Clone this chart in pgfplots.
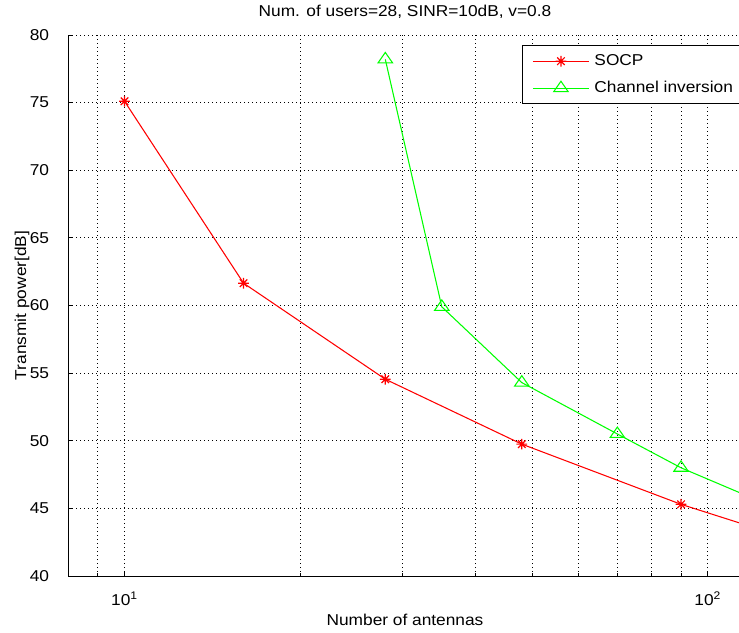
\documentclass[border=0pt]{standalone}
\usepackage{pgfplots}
\pgfplotsset{compat=1.18}
\usepackage{fontspec}
\setmainfont{Liberation Sans}[FakeStretch=1.1]

% eight-armed asterisk marker (plus and cross combined)
\pgfdeclareplotmark{matstar}{%
  \pgfpathmoveto{\pgfqpoint{-\pgfplotmarksize}{0pt}}%
  \pgfpathlineto{\pgfqpoint{\pgfplotmarksize}{0pt}}%
  \pgfpathmoveto{\pgfqpoint{0pt}{-\pgfplotmarksize}}%
  \pgfpathlineto{\pgfqpoint{0pt}{\pgfplotmarksize}}%
  \pgfpathmoveto{\pgfqpoint{-0.707\pgfplotmarksize}{-0.707\pgfplotmarksize}}%
  \pgfpathlineto{\pgfqpoint{0.707\pgfplotmarksize}{0.707\pgfplotmarksize}}%
  \pgfpathmoveto{\pgfqpoint{-0.707\pgfplotmarksize}{0.707\pgfplotmarksize}}%
  \pgfpathlineto{\pgfqpoint{0.707\pgfplotmarksize}{-0.707\pgfplotmarksize}}%
  \pgfusepathqstroke}

\begin{document}
\begin{tikzpicture}[font=\fontsize{11.8pt}{14pt}\selectfont]
\path[use as bounding box] (-51pt,-42pt) rectangle (503.25pt,432pt);
\begin{axis}[
  at={(0pt,0pt)}, anchor=south west,
  scale only axis, width=505.5pt, height=405.75pt,
  xmode=log, xmin=8, xmax=114.5, ymin=40, ymax=80,
  axis x line*=bottom, axis y line*=left,
  axis line style={black, line width=0.75pt, -},
  xtick={10,100}, xticklabels={10\textsuperscript{1},10\textsuperscript{2}},
  minor xtick={9,20,30,40,50,60,70,80,90},
  ytick={40,45,...,80},
  /pgf/number format/assume math mode=true,
  tick align=inside, major tick length=4pt, minor tick length=2.5pt,
  tick style={black, line width=0.6pt},
  xmajorgrids, xminorgrids, ymajorgrids,
  major grid style={black, line width=0.6pt, dash pattern=on 0.6pt off 2.4pt},
  minor grid style={black, line width=0.6pt, dash pattern=on 0.6pt off 2.4pt},
  xticklabel style={anchor=center, yshift=-17pt},
  yticklabel style={anchor=east, inner sep=0pt, xshift=-14pt},
  every axis title shift=0pt,
  title={Num. of users=28, SINR=10dB, v=0.8},
  title style={at={(axis description cs:0.5,1.0425)}, anchor=center},
  xlabel={Number of antennas},
  xlabel style={at={(axis description cs:0.5,-0.0813)}, anchor=center},
  ylabel={Transmit power[dB]},
  ylabel style={at={(axis description cs:-0.0682,0.5)}, anchor=center, rotate=0},
  legend style={at={(0.674,0.981)}, anchor=north west, draw=black,
    line width=0.6pt, fill=white, inner xsep=7.3pt, inner ysep=1.5pt,
    row sep=0pt, column sep=3.75pt,
    nodes={inner sep=0pt, minimum height=20.25pt}},
  legend cell align=left,
  legend image code/.code={%
    \draw[mark repeat=2, mark phase=2, #1]
      plot coordinates {(0pt,0pt) (21pt,0pt) (42pt,0pt)};},
]
\addplot[red, line width=0.8pt, mark=matstar, mark size=4pt,
  mark options={solid, line width=0.9pt}] coordinates {
  (10,75.1) (16,61.65) (28,54.55) (48,49.75) (90,45.3) (128,43.2)
};
\addlegendentry{SOCP}
\addplot[green, line width=0.8pt, mark=triangle, mark size=5.2pt,
  mark options={solid, xscale=1.2}] coordinates {
  (28,78.2) (35,59.9) (48,54.3) (70,50.5) (90,48.0) (128,45.2)
};
\addlegendentry{Channel inversion\hspace*{8pt}}
\end{axis}
\end{tikzpicture}
\end{document}
